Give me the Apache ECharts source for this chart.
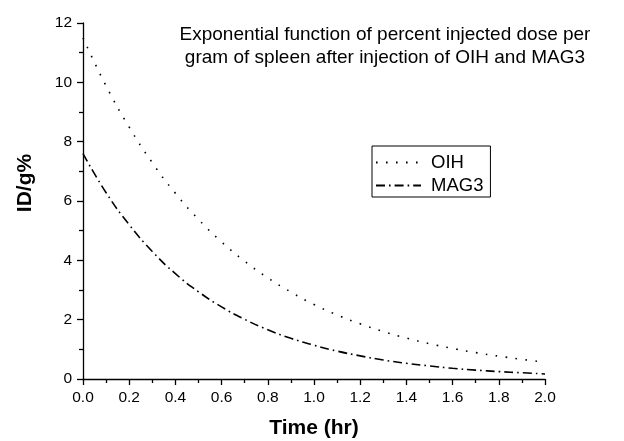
<!DOCTYPE html>
<html>
<head>
<meta charset="utf-8">
<script src="https://cdn.jsdelivr.net/npm/echarts@6/dist/echarts.min.js"></script>
<style>html,body{margin:0;padding:0;background:#fff}#c{width:624px;height:441px}</style>
</head>
<body>
<div id="c"></div>
<script>
var time = [0.0,0.1,0.2,0.3,0.4,0.5,0.6,0.7,0.8,0.9,1.0,1.1,1.2,1.3,1.4,1.5,1.6,1.7,1.8,1.9,2.0];
var oih  = [11.5,9.88,8.49,7.29,6.26,5.38,4.62,3.97,3.41,2.93,2.51,2.16,1.86,1.60,1.38,1.19,1.03,0.89,0.77,0.66,0.57];
var mag3 = [7.6,6.28,5.20,4.30,3.55,2.94,2.43,2.01,1.66,1.37,1.14,0.94,0.78,0.64,0.53,0.44,0.36,0.30,0.25,0.21,0.17];
var seriesNames = ['OIH','MAG3'];
var titleText = 'Exponential function of percent injected dose per\ngram of spleen after injection of OIH and MAG3';

function pairs(xs, ys){ return xs.map(function(x,i){ return [x, ys[i]]; }); }

var chart = echarts.init(document.getElementById('c'), null, {renderer:'canvas'});
var font = 'Liberation Sans, Arial, sans-serif';
chart.setOption({
  animation: false,
  backgroundColor: '#fff',
  textStyle: {fontFamily: font},
  title: {
    text: titleText,
    left: 380, top: 18, textAlign: 'center',
    textStyle: {fontFamily: font, fontSize: 19, fontWeight: 'normal', color: '#000', lineHeight: 23}
  },
  legend: {
    orient: 'vertical',
    left: 372, top: 146,
    itemWidth: 45, itemHeight: 18, itemGap: 4,
    padding: [7, 7, 2, 3],
    borderColor: '#000', borderWidth: 1, borderRadius: 0,
    itemStyle: {opacity: 0},
    textStyle: {fontFamily: font, fontSize: 18.5, color: '#000', padding: [0,0,0,5]},
    data: seriesNames
  },
  grid: {left: 83, right: 79, top: 23, bottom: 62, containLabel: false, outerBoundsMode: 'none'},
  xAxis: {
    type: 'value', min: 0, max: 2, interval: 0.2,
    name: 'Time (hr)', nameLocation: 'middle', nameGap: 39,
    nameTextStyle: {fontFamily: font, fontSize: 21, fontWeight: 'bold', color: '#000'},
    axisLine: {show: true, onZero: false, lineStyle: {color: '#000', width: 1.3}},
    axisTick: {show: true, inside: false, length: 6, lineStyle: {color: '#000', width: 1.3}},
    minorTick: {show: true, splitNumber: 2, length: 4, lineStyle: {color: '#000', width: 1.3}},
    axisLabel: {fontFamily: font, fontSize: 15.5, color: '#000', margin: 11, formatter: function(v){return v.toFixed(1);}},
    splitLine: {show: false}
  },
  yAxis: {
    type: 'value', min: 0, max: 12, interval: 2,
    name: 'ID/g%', nameLocation: 'middle', nameGap: 47, nameRotate: 90,
    nameTextStyle: {fontFamily: font, fontSize: 21, fontWeight: 'bold', color: '#000', padding: [0,0,0,36]},
    axisLine: {show: true, onZero: false, lineStyle: {color: '#000', width: 1.3}},
    axisTick: {show: true, inside: false, length: 6, lineStyle: {color: '#000', width: 1.3}},
    minorTick: {show: true, splitNumber: 2, length: 4, lineStyle: {color: '#000', width: 1.3}},
    axisLabel: {fontFamily: font, fontSize: 15.5, color: '#000', margin: 11},
    splitLine: {show: false}
  },
  series: [
    {
      name: seriesNames[0], type: 'line', data: pairs(time, oih), smooth: true,
      symbol: 'none', showSymbol: false,
      lineStyle: {color: '#000', width: 1.6, type: [1.6, 8.4]},
      itemStyle: {color: '#000'}
    },
    {
      name: seriesNames[1], type: 'line', data: pairs(time, mag3), smooth: true,
      symbol: 'none', showSymbol: false,
      lineStyle: {color: '#000', width: 1.6, type: [9, 4, 1.6, 4]},
      itemStyle: {color: '#000'}
    }
  ]
});
</script>
</body>
</html>
